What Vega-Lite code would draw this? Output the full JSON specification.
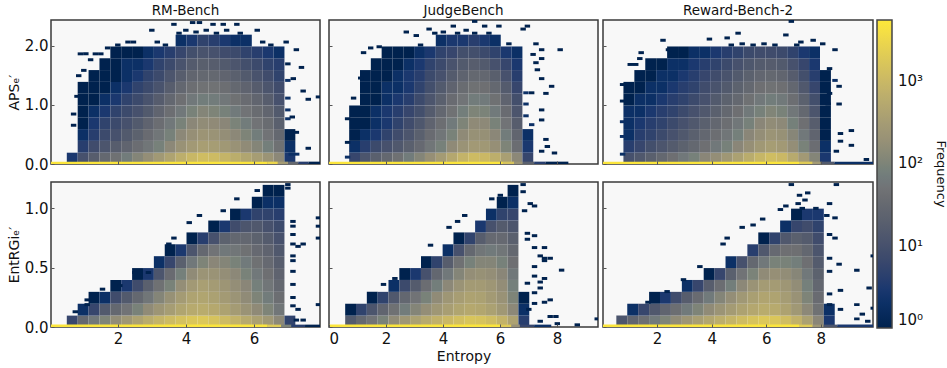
{"$schema":"https://vega.github.io/schema/vega-lite/v6.json","padding":{"left":6,"top":2,"right":0,"bottom":0},"background":"white","config":{"view":{"stroke":"#3a3a3a","strokeWidth":1.5,"fill":"#f8f8f8"},"font":"DejaVu Sans","axis":{"labelColor":"#111","titleColor":"#111","titleFontWeight":"normal","labelFontSize":15,"titleFontSize":14,"domain":false,"tickColor":"#555","gridDash":[2,2],"gridColor":"#999","labelPadding":6,"titlePadding":3},"axisX":{"labelPadding":7},"title":{"fontSize":13.5,"fontWeight":"normal","offset":3,"color":"#111"},"legend":{"labelColor":"#111","titleColor":"#111"}},"datasets":{
"a1":[{"x":0.48,"y":0,"v":3},{"x":0.8,"y":0,"v":10},{"x":0.8,"y":0.2,"v":4},{"x":0.8,"y":0.4,"v":2},{"x":0.8,"y":0.6,"v":1},{"x":0.8,"y":0.8,"v":1},{"x":0.8,"y":1,"v":1},{"x":0.8,"y":1.2,"v":1},{"x":1.12,"y":0,"v":18},{"x":1.12,"y":0.2,"v":8},{"x":1.12,"y":0.4,"v":4},{"x":1.12,"y":0.6,"v":3},{"x":1.12,"y":0.8,"v":2},{"x":1.12,"y":1,"v":1},{"x":1.12,"y":1.2,"v":1},{"x":1.12,"y":1.4,"v":1},{"x":1.44,"y":0,"v":30},{"x":1.44,"y":0.2,"v":12},{"x":1.44,"y":0.4,"v":7},{"x":1.44,"y":0.6,"v":5},{"x":1.44,"y":0.8,"v":3},{"x":1.44,"y":1,"v":2},{"x":1.44,"y":1.2,"v":1},{"x":1.44,"y":1.4,"v":1},{"x":1.44,"y":1.6,"v":1},{"x":1.76,"y":0,"v":45},{"x":1.76,"y":0.2,"v":18},{"x":1.76,"y":0.4,"v":10},{"x":1.76,"y":0.6,"v":7},{"x":1.76,"y":0.8,"v":5},{"x":1.76,"y":1,"v":3},{"x":1.76,"y":1.2,"v":2},{"x":1.76,"y":1.4,"v":1},{"x":1.76,"y":1.6,"v":1},{"x":1.76,"y":1.8,"v":1},{"x":2.08,"y":0,"v":70},{"x":2.08,"y":0.2,"v":25},{"x":2.08,"y":0.4,"v":15},{"x":2.08,"y":0.6,"v":10},{"x":2.08,"y":0.8,"v":7},{"x":2.08,"y":1,"v":5},{"x":2.08,"y":1.2,"v":3},{"x":2.08,"y":1.4,"v":2},{"x":2.08,"y":1.6,"v":2},{"x":2.08,"y":1.8,"v":1},{"x":2.4,"y":0,"v":110},{"x":2.4,"y":0.2,"v":38},{"x":2.4,"y":0.4,"v":22},{"x":2.4,"y":0.6,"v":15},{"x":2.4,"y":0.8,"v":10},{"x":2.4,"y":1,"v":7},{"x":2.4,"y":1.2,"v":5},{"x":2.4,"y":1.4,"v":3},{"x":2.4,"y":1.6,"v":2},{"x":2.4,"y":1.8,"v":1},{"x":2.72,"y":0,"v":170},{"x":2.72,"y":0.2,"v":55},{"x":2.72,"y":0.4,"v":35},{"x":2.72,"y":0.6,"v":24},{"x":2.72,"y":0.8,"v":15},{"x":2.72,"y":1,"v":11},{"x":2.72,"y":1.2,"v":7},{"x":2.72,"y":1.4,"v":5},{"x":2.72,"y":1.6,"v":3},{"x":2.72,"y":1.8,"v":2},{"x":3.04,"y":0,"v":270},{"x":3.04,"y":0.2,"v":85},{"x":3.04,"y":0.4,"v":55},{"x":3.04,"y":0.6,"v":38},{"x":3.04,"y":0.8,"v":25},{"x":3.04,"y":1,"v":17},{"x":3.04,"y":1.2,"v":11},{"x":3.04,"y":1.4,"v":7},{"x":3.04,"y":1.6,"v":5},{"x":3.04,"y":1.8,"v":3},{"x":3.36,"y":0,"v":420},{"x":3.36,"y":0.2,"v":130},{"x":3.36,"y":0.4,"v":85},{"x":3.36,"y":0.6,"v":60},{"x":3.36,"y":0.8,"v":40},{"x":3.36,"y":1,"v":28},{"x":3.36,"y":1.2,"v":18},{"x":3.36,"y":1.4,"v":12},{"x":3.36,"y":1.6,"v":7},{"x":3.36,"y":1.8,"v":4},{"x":3.68,"y":0,"v":650},{"x":3.68,"y":0.2,"v":200},{"x":3.68,"y":0.4,"v":130},{"x":3.68,"y":0.6,"v":90},{"x":3.68,"y":0.8,"v":60},{"x":3.68,"y":1,"v":42},{"x":3.68,"y":1.2,"v":28},{"x":3.68,"y":1.4,"v":18},{"x":3.68,"y":1.6,"v":11},{"x":3.68,"y":1.8,"v":6},{"x":3.68,"y":2,"v":2},{"x":4,"y":0,"v":950},{"x":4,"y":0.2,"v":280},{"x":4,"y":0.4,"v":180},{"x":4,"y":0.6,"v":125},{"x":4,"y":0.8,"v":90},{"x":4,"y":1,"v":60},{"x":4,"y":1.2,"v":40},{"x":4,"y":1.4,"v":26},{"x":4,"y":1.6,"v":16},{"x":4,"y":1.8,"v":9},{"x":4,"y":2,"v":3},{"x":4.32,"y":0,"v":1200},{"x":4.32,"y":0.2,"v":340},{"x":4.32,"y":0.4,"v":225},{"x":4.32,"y":0.6,"v":155},{"x":4.32,"y":0.8,"v":110},{"x":4.32,"y":1,"v":72},{"x":4.32,"y":1.2,"v":48},{"x":4.32,"y":1.4,"v":30},{"x":4.32,"y":1.6,"v":19},{"x":4.32,"y":1.8,"v":11},{"x":4.32,"y":2,"v":5},{"x":4.64,"y":0,"v":1100},{"x":4.64,"y":0.2,"v":320},{"x":4.64,"y":0.4,"v":210},{"x":4.64,"y":0.6,"v":145},{"x":4.64,"y":0.8,"v":100},{"x":4.64,"y":1,"v":70},{"x":4.64,"y":1.2,"v":48},{"x":4.64,"y":1.4,"v":30},{"x":4.64,"y":1.6,"v":18},{"x":4.64,"y":1.8,"v":10},{"x":4.64,"y":2,"v":4},{"x":4.96,"y":0,"v":850},{"x":4.96,"y":0.2,"v":260},{"x":4.96,"y":0.4,"v":170},{"x":4.96,"y":0.6,"v":120},{"x":4.96,"y":0.8,"v":85},{"x":4.96,"y":1,"v":58},{"x":4.96,"y":1.2,"v":40},{"x":4.96,"y":1.4,"v":25},{"x":4.96,"y":1.6,"v":15},{"x":4.96,"y":1.8,"v":8},{"x":4.96,"y":2,"v":3},{"x":5.28,"y":0,"v":620},{"x":5.28,"y":0.2,"v":200},{"x":5.28,"y":0.4,"v":130},{"x":5.28,"y":0.6,"v":95},{"x":5.28,"y":0.8,"v":65},{"x":5.28,"y":1,"v":45},{"x":5.28,"y":1.2,"v":30},{"x":5.28,"y":1.4,"v":20},{"x":5.28,"y":1.6,"v":12},{"x":5.28,"y":1.8,"v":7},{"x":5.28,"y":2,"v":2},{"x":5.6,"y":0,"v":450},{"x":5.6,"y":0.2,"v":150},{"x":5.6,"y":0.4,"v":100},{"x":5.6,"y":0.6,"v":70},{"x":5.6,"y":0.8,"v":50},{"x":5.6,"y":1,"v":35},{"x":5.6,"y":1.2,"v":24},{"x":5.6,"y":1.4,"v":15},{"x":5.6,"y":1.6,"v":9},{"x":5.6,"y":1.8,"v":5},{"x":5.6,"y":2,"v":2},{"x":5.92,"y":0,"v":320},{"x":5.92,"y":0.2,"v":110},{"x":5.92,"y":0.4,"v":72},{"x":5.92,"y":0.6,"v":50},{"x":5.92,"y":0.8,"v":36},{"x":5.92,"y":1,"v":26},{"x":5.92,"y":1.2,"v":17},{"x":5.92,"y":1.4,"v":11},{"x":5.92,"y":1.6,"v":7},{"x":5.92,"y":1.8,"v":4},{"x":6.24,"y":0,"v":220},{"x":6.24,"y":0.2,"v":78},{"x":6.24,"y":0.4,"v":50},{"x":6.24,"y":0.6,"v":36},{"x":6.24,"y":0.8,"v":26},{"x":6.24,"y":1,"v":18},{"x":6.24,"y":1.2,"v":12},{"x":6.24,"y":1.4,"v":8},{"x":6.24,"y":1.6,"v":5},{"x":6.24,"y":1.8,"v":3},{"x":6.56,"y":0,"v":130},{"x":6.56,"y":0.2,"v":45},{"x":6.56,"y":0.4,"v":30},{"x":6.56,"y":0.6,"v":20},{"x":6.56,"y":0.8,"v":15},{"x":6.56,"y":1,"v":10},{"x":6.56,"y":1.2,"v":8},{"x":6.56,"y":1.4,"v":5},{"x":6.56,"y":1.6,"v":4},{"x":6.56,"y":1.8,"v":2},{"x":6.88,"y":0,"v":3},{"x":6.88,"y":0.2,"v":2},{"x":6.88,"y":0.4,"v":1}],
"s1":[{"x":0.8,"y":1.85,"v":1},{"x":0.96,"y":1.85,"v":1},{"x":1.24,"y":1.85,"v":1},{"x":1.4,"y":1.85,"v":1},{"x":1.6,"y":1.95,"v":1},{"x":1.9,"y":2,"v":1},{"x":2.2,"y":2.05,"v":1},{"x":2.36,"y":2.05,"v":1},{"x":2.9,"y":2.25,"v":1},{"x":3.06,"y":2.05,"v":1},{"x":3.3,"y":2,"v":1},{"x":3.55,"y":2.35,"v":1},{"x":3.7,"y":2.2,"v":1},{"x":3.9,"y":2.25,"v":1},{"x":4.1,"y":2.38,"v":1},{"x":4.3,"y":2.38,"v":1},{"x":4.2,"y":2.22,"v":1},{"x":4.5,"y":2.25,"v":1},{"x":4.7,"y":2.35,"v":1},{"x":4.8,"y":2.2,"v":1},{"x":5,"y":2.35,"v":1},{"x":5.1,"y":2.25,"v":1},{"x":5.4,"y":2.35,"v":1},{"x":5.5,"y":2.2,"v":1},{"x":6,"y":2.25,"v":1},{"x":6.16,"y":2.05,"v":1},{"x":6.4,"y":2,"v":1},{"x":6.85,"y":2.05,"v":1},{"x":7.15,"y":1.92,"v":1},{"x":7.3,"y":1.62,"v":1},{"x":7.35,"y":1.22,"v":1},{"x":7.5,"y":1.08,"v":1},{"x":7.8,"y":1.12,"v":1},{"x":6.9,"y":1.68,"v":1},{"x":6.9,"y":1.4,"v":2},{"x":7.06,"y":1.43,"v":1},{"x":6.9,"y":1.1,"v":2},{"x":6.9,"y":0.9,"v":2},{"x":6.9,"y":0.75,"v":2},{"x":7.03,"y":0.78,"v":1},{"x":7.15,"y":0.52,"v":1},{"x":7.5,"y":0.25,"v":1},{"x":7,"y":0.15,"v":2},{"x":7.16,"y":0.15,"v":2},{"x":0.75,"y":1.48,"v":1},{"x":0.9,"y":1.57,"v":1},{"x":1.1,"y":1.75,"v":1},{"x":0.6,"y":0.83,"v":1},{"x":0.6,"y":0.64,"v":1},{"x":0.7,"y":1.13,"v":1}],
"t1":[{"x":0,"x2":6.4,"v":5000},{"x":6.4,"x2":6.7,"v":3000},{"x":6.7,"x2":7,"v":300},{"x":7,"x2":7.3,"v":30},{"x":7.3,"x2":7.6,"v":4},{"x":7.6,"x2":7.94,"v":1}],
"a2":[{"x":0.69,"y":0,"v":6},{"x":0.69,"y":0.2,"v":2},{"x":0.69,"y":0.4,"v":1},{"x":0.69,"y":0.6,"v":1},{"x":0.69,"y":0.8,"v":1},{"x":1.07,"y":0,"v":12},{"x":1.07,"y":0.2,"v":4},{"x":1.07,"y":0.4,"v":2},{"x":1.07,"y":0.6,"v":1},{"x":1.07,"y":0.8,"v":1},{"x":1.07,"y":1,"v":1},{"x":1.07,"y":1.2,"v":1},{"x":1.07,"y":1.4,"v":1},{"x":1.45,"y":0,"v":20},{"x":1.45,"y":0.2,"v":7},{"x":1.45,"y":0.4,"v":3},{"x":1.45,"y":0.6,"v":2},{"x":1.45,"y":0.8,"v":2},{"x":1.45,"y":1,"v":1},{"x":1.45,"y":1.2,"v":1},{"x":1.45,"y":1.4,"v":1},{"x":1.45,"y":1.6,"v":1},{"x":1.83,"y":0,"v":30},{"x":1.83,"y":0.2,"v":10},{"x":1.83,"y":0.4,"v":5},{"x":1.83,"y":0.6,"v":3},{"x":1.83,"y":0.8,"v":3},{"x":1.83,"y":1,"v":2},{"x":1.83,"y":1.2,"v":2},{"x":1.83,"y":1.4,"v":1},{"x":1.83,"y":1.6,"v":1},{"x":1.83,"y":1.8,"v":1},{"x":2.21,"y":0,"v":45},{"x":2.21,"y":0.2,"v":14},{"x":2.21,"y":0.4,"v":8},{"x":2.21,"y":0.6,"v":5},{"x":2.21,"y":0.8,"v":4},{"x":2.21,"y":1,"v":3},{"x":2.21,"y":1.2,"v":2},{"x":2.21,"y":1.4,"v":2},{"x":2.21,"y":1.6,"v":1},{"x":2.21,"y":1.8,"v":1},{"x":2.59,"y":0,"v":70},{"x":2.59,"y":0.2,"v":20},{"x":2.59,"y":0.4,"v":12},{"x":2.59,"y":0.6,"v":8},{"x":2.59,"y":0.8,"v":6},{"x":2.59,"y":1,"v":4},{"x":2.59,"y":1.2,"v":3},{"x":2.59,"y":1.4,"v":3},{"x":2.59,"y":1.6,"v":2},{"x":2.59,"y":1.8,"v":1},{"x":2.97,"y":0,"v":110},{"x":2.97,"y":0.2,"v":32},{"x":2.97,"y":0.4,"v":20},{"x":2.97,"y":0.6,"v":13},{"x":2.97,"y":0.8,"v":9},{"x":2.97,"y":1,"v":7},{"x":2.97,"y":1.2,"v":5},{"x":2.97,"y":1.4,"v":4},{"x":2.97,"y":1.6,"v":3},{"x":2.97,"y":1.8,"v":2},{"x":3.35,"y":0,"v":180},{"x":3.35,"y":0.2,"v":55},{"x":3.35,"y":0.4,"v":35},{"x":3.35,"y":0.6,"v":24},{"x":3.35,"y":0.8,"v":16},{"x":3.35,"y":1,"v":12},{"x":3.35,"y":1.2,"v":9},{"x":3.35,"y":1.4,"v":7},{"x":3.35,"y":1.6,"v":5},{"x":3.35,"y":1.8,"v":3},{"x":3.73,"y":0,"v":300},{"x":3.73,"y":0.2,"v":85},{"x":3.73,"y":0.4,"v":55},{"x":3.73,"y":0.6,"v":40},{"x":3.73,"y":0.8,"v":28},{"x":3.73,"y":1,"v":20},{"x":3.73,"y":1.2,"v":15},{"x":3.73,"y":1.4,"v":10},{"x":3.73,"y":1.6,"v":7},{"x":3.73,"y":1.8,"v":5},{"x":3.73,"y":2,"v":2},{"x":4.11,"y":0,"v":500},{"x":4.11,"y":0.2,"v":140},{"x":4.11,"y":0.4,"v":90},{"x":4.11,"y":0.6,"v":65},{"x":4.11,"y":0.8,"v":48},{"x":4.11,"y":1,"v":35},{"x":4.11,"y":1.2,"v":24},{"x":4.11,"y":1.4,"v":16},{"x":4.11,"y":1.6,"v":11},{"x":4.11,"y":1.8,"v":6},{"x":4.11,"y":2,"v":3},{"x":4.49,"y":0,"v":800},{"x":4.49,"y":0.2,"v":210},{"x":4.49,"y":0.4,"v":140},{"x":4.49,"y":0.6,"v":100},{"x":4.49,"y":0.8,"v":75},{"x":4.49,"y":1,"v":52},{"x":4.49,"y":1.2,"v":36},{"x":4.49,"y":1.4,"v":23},{"x":4.49,"y":1.6,"v":15},{"x":4.49,"y":1.8,"v":9},{"x":4.49,"y":2,"v":3},{"x":4.87,"y":0,"v":1100},{"x":4.87,"y":0.2,"v":280},{"x":4.87,"y":0.4,"v":190},{"x":4.87,"y":0.6,"v":140},{"x":4.87,"y":0.8,"v":100},{"x":4.87,"y":1,"v":70},{"x":4.87,"y":1.2,"v":45},{"x":4.87,"y":1.4,"v":30},{"x":4.87,"y":1.6,"v":18},{"x":4.87,"y":1.8,"v":9},{"x":4.87,"y":2,"v":4},{"x":5.25,"y":0,"v":1000},{"x":5.25,"y":0.2,"v":260},{"x":5.25,"y":0.4,"v":185},{"x":5.25,"y":0.6,"v":135},{"x":5.25,"y":0.8,"v":95},{"x":5.25,"y":1,"v":65},{"x":5.25,"y":1.2,"v":42},{"x":5.25,"y":1.4,"v":28},{"x":5.25,"y":1.6,"v":15},{"x":5.25,"y":1.8,"v":7},{"x":5.25,"y":2,"v":3},{"x":5.63,"y":0,"v":650},{"x":5.63,"y":0.2,"v":180},{"x":5.63,"y":0.4,"v":125},{"x":5.63,"y":0.6,"v":90},{"x":5.63,"y":0.8,"v":65},{"x":5.63,"y":1,"v":45},{"x":5.63,"y":1.2,"v":30},{"x":5.63,"y":1.4,"v":19},{"x":5.63,"y":1.6,"v":10},{"x":5.63,"y":1.8,"v":5},{"x":5.63,"y":2,"v":2},{"x":6.01,"y":0,"v":350},{"x":6.01,"y":0.2,"v":100},{"x":6.01,"y":0.4,"v":70},{"x":6.01,"y":0.6,"v":50},{"x":6.01,"y":0.8,"v":35},{"x":6.01,"y":1,"v":24},{"x":6.01,"y":1.2,"v":16},{"x":6.01,"y":1.4,"v":10},{"x":6.01,"y":1.6,"v":6},{"x":6.01,"y":1.8,"v":3},{"x":6.39,"y":0,"v":130},{"x":6.39,"y":0.2,"v":38},{"x":6.39,"y":0.4,"v":26},{"x":6.39,"y":0.6,"v":18},{"x":6.39,"y":0.8,"v":12},{"x":6.39,"y":1,"v":9},{"x":6.39,"y":1.2,"v":6},{"x":6.39,"y":1.4,"v":4},{"x":6.39,"y":1.6,"v":3},{"x":6.39,"y":1.8,"v":2},{"x":6.77,"y":0,"v":6},{"x":6.77,"y":0.2,"v":3},{"x":6.77,"y":0.4,"v":2}],
"s2":[{"x":2.6,"y":2.22,"v":1},{"x":2.95,"y":2.16,"v":1},{"x":3.1,"y":2,"v":1},{"x":3.4,"y":2.27,"v":1},{"x":3.6,"y":2.2,"v":1},{"x":3.9,"y":2.22,"v":1},{"x":4.25,"y":2.32,"v":1},{"x":4.4,"y":2.2,"v":1},{"x":4.7,"y":2.25,"v":1},{"x":5,"y":2.4,"v":1},{"x":5,"y":2.2,"v":1},{"x":5.35,"y":2.32,"v":1},{"x":5.5,"y":2.2,"v":1},{"x":5.85,"y":2.32,"v":1},{"x":6.2,"y":2.02,"v":1},{"x":6.85,"y":2.32,"v":1},{"x":6.7,"y":2.27,"v":1},{"x":7.15,"y":2.02,"v":1},{"x":7.35,"y":1.92,"v":1},{"x":8,"y":1.92,"v":1},{"x":7.05,"y":1.84,"v":1},{"x":7.35,"y":1.77,"v":1},{"x":7.15,"y":1.7,"v":1},{"x":7.2,"y":1.58,"v":1},{"x":7.35,"y":1.43,"v":1},{"x":7.7,"y":1.3,"v":1},{"x":7.5,"y":1.18,"v":1},{"x":6.8,"y":1.19,"v":2},{"x":7,"y":1.19,"v":1},{"x":6.8,"y":1,"v":2},{"x":6.8,"y":0.8,"v":2},{"x":7.35,"y":0.9,"v":1},{"x":7.35,"y":0.73,"v":1},{"x":7,"y":0.65,"v":2},{"x":7.5,"y":0.4,"v":1},{"x":7.55,"y":0.28,"v":1},{"x":7.35,"y":0.2,"v":1},{"x":7.8,"y":0.17,"v":1},{"x":1.1,"y":1.87,"v":1},{"x":1.65,"y":1.97,"v":1},{"x":1.35,"y":1.95,"v":1},{"x":1,"y":1.44,"v":1},{"x":0.75,"y":1.1,"v":1},{"x":0.54,"y":0.75,"v":1},{"x":0.54,"y":0.35,"v":1},{"x":0.54,"y":0.1,"v":2}],
"t2":[{"x":0,"x2":6.1,"v":5000},{"x":6.1,"x2":6.5,"v":1500},{"x":6.5,"x2":6.8,"v":200},{"x":6.8,"x2":7.2,"v":20},{"x":7.2,"x2":7.6,"v":4},{"x":7.6,"x2":8.4,"v":1}],
"a3":[{"x":0.75,"y":0,"v":10},{"x":0.75,"y":0.2,"v":4},{"x":0.75,"y":0.4,"v":2},{"x":0.75,"y":0.6,"v":2},{"x":0.75,"y":0.8,"v":2},{"x":0.75,"y":1,"v":1},{"x":0.75,"y":1.2,"v":1},{"x":1.15,"y":0,"v":14},{"x":1.15,"y":0.2,"v":6},{"x":1.15,"y":0.4,"v":4},{"x":1.15,"y":0.6,"v":3},{"x":1.15,"y":0.8,"v":2},{"x":1.15,"y":1,"v":2},{"x":1.15,"y":1.2,"v":1},{"x":1.15,"y":1.4,"v":1},{"x":1.55,"y":0,"v":20},{"x":1.55,"y":0.2,"v":9},{"x":1.55,"y":0.4,"v":5},{"x":1.55,"y":0.6,"v":4},{"x":1.55,"y":0.8,"v":3},{"x":1.55,"y":1,"v":2},{"x":1.55,"y":1.2,"v":2},{"x":1.55,"y":1.4,"v":1},{"x":1.55,"y":1.6,"v":1},{"x":1.95,"y":0,"v":30},{"x":1.95,"y":0.2,"v":12},{"x":1.95,"y":0.4,"v":7},{"x":1.95,"y":0.6,"v":5},{"x":1.95,"y":0.8,"v":4},{"x":1.95,"y":1,"v":3},{"x":1.95,"y":1.2,"v":2},{"x":1.95,"y":1.4,"v":2},{"x":1.95,"y":1.6,"v":1},{"x":2.35,"y":0,"v":42},{"x":2.35,"y":0.2,"v":16},{"x":2.35,"y":0.4,"v":10},{"x":2.35,"y":0.6,"v":7},{"x":2.35,"y":0.8,"v":5},{"x":2.35,"y":1,"v":4},{"x":2.35,"y":1.2,"v":3},{"x":2.35,"y":1.4,"v":2},{"x":2.35,"y":1.6,"v":2},{"x":2.35,"y":1.8,"v":1},{"x":2.75,"y":0,"v":60},{"x":2.75,"y":0.2,"v":22},{"x":2.75,"y":0.4,"v":14},{"x":2.75,"y":0.6,"v":10},{"x":2.75,"y":0.8,"v":7},{"x":2.75,"y":1,"v":5},{"x":2.75,"y":1.2,"v":4},{"x":2.75,"y":1.4,"v":3},{"x":2.75,"y":1.6,"v":2},{"x":2.75,"y":1.8,"v":1},{"x":3.15,"y":0,"v":85},{"x":3.15,"y":0.2,"v":30},{"x":3.15,"y":0.4,"v":20},{"x":3.15,"y":0.6,"v":14},{"x":3.15,"y":0.8,"v":10},{"x":3.15,"y":1,"v":7},{"x":3.15,"y":1.2,"v":5},{"x":3.15,"y":1.4,"v":4},{"x":3.15,"y":1.6,"v":3},{"x":3.15,"y":1.8,"v":2},{"x":3.55,"y":0,"v":120},{"x":3.55,"y":0.2,"v":42},{"x":3.55,"y":0.4,"v":28},{"x":3.55,"y":0.6,"v":20},{"x":3.55,"y":0.8,"v":14},{"x":3.55,"y":1,"v":10},{"x":3.55,"y":1.2,"v":8},{"x":3.55,"y":1.4,"v":6},{"x":3.55,"y":1.6,"v":4},{"x":3.55,"y":1.8,"v":2},{"x":3.95,"y":0,"v":170},{"x":3.95,"y":0.2,"v":60},{"x":3.95,"y":0.4,"v":40},{"x":3.95,"y":0.6,"v":28},{"x":3.95,"y":0.8,"v":20},{"x":3.95,"y":1,"v":15},{"x":3.95,"y":1.2,"v":11},{"x":3.95,"y":1.4,"v":8},{"x":3.95,"y":1.6,"v":5},{"x":3.95,"y":1.8,"v":3},{"x":4.35,"y":0,"v":250},{"x":4.35,"y":0.2,"v":85},{"x":4.35,"y":0.4,"v":55},{"x":4.35,"y":0.6,"v":40},{"x":4.35,"y":0.8,"v":30},{"x":4.35,"y":1,"v":22},{"x":4.35,"y":1.2,"v":15},{"x":4.35,"y":1.4,"v":11},{"x":4.35,"y":1.6,"v":7},{"x":4.35,"y":1.8,"v":4},{"x":4.75,"y":0,"v":380},{"x":4.75,"y":0.2,"v":120},{"x":4.75,"y":0.4,"v":80},{"x":4.75,"y":0.6,"v":58},{"x":4.75,"y":0.8,"v":42},{"x":4.75,"y":1,"v":30},{"x":4.75,"y":1.2,"v":22},{"x":4.75,"y":1.4,"v":15},{"x":4.75,"y":1.6,"v":10},{"x":4.75,"y":1.8,"v":5},{"x":5.15,"y":0,"v":600},{"x":5.15,"y":0.2,"v":180},{"x":5.15,"y":0.4,"v":120},{"x":5.15,"y":0.6,"v":85},{"x":5.15,"y":0.8,"v":62},{"x":5.15,"y":1,"v":45},{"x":5.15,"y":1.2,"v":30},{"x":5.15,"y":1.4,"v":21},{"x":5.15,"y":1.6,"v":13},{"x":5.15,"y":1.8,"v":7},{"x":5.55,"y":0,"v":900},{"x":5.55,"y":0.2,"v":260},{"x":5.55,"y":0.4,"v":170},{"x":5.55,"y":0.6,"v":120},{"x":5.55,"y":0.8,"v":85},{"x":5.55,"y":1,"v":60},{"x":5.55,"y":1.2,"v":42},{"x":5.55,"y":1.4,"v":27},{"x":5.55,"y":1.6,"v":16},{"x":5.55,"y":1.8,"v":8},{"x":5.95,"y":0,"v":1200},{"x":5.95,"y":0.2,"v":320},{"x":5.95,"y":0.4,"v":220},{"x":5.95,"y":0.6,"v":155},{"x":5.95,"y":0.8,"v":105},{"x":5.95,"y":1,"v":72},{"x":5.95,"y":1.2,"v":48},{"x":5.95,"y":1.4,"v":30},{"x":5.95,"y":1.6,"v":17},{"x":5.95,"y":1.8,"v":8},{"x":6.35,"y":0,"v":1000},{"x":6.35,"y":0.2,"v":280},{"x":6.35,"y":0.4,"v":190},{"x":6.35,"y":0.6,"v":135},{"x":6.35,"y":0.8,"v":90},{"x":6.35,"y":1,"v":62},{"x":6.35,"y":1.2,"v":42},{"x":6.35,"y":1.4,"v":26},{"x":6.35,"y":1.6,"v":15},{"x":6.35,"y":1.8,"v":7},{"x":6.75,"y":0,"v":550},{"x":6.75,"y":0.2,"v":170},{"x":6.75,"y":0.4,"v":115},{"x":6.75,"y":0.6,"v":82},{"x":6.75,"y":0.8,"v":58},{"x":6.75,"y":1,"v":40},{"x":6.75,"y":1.2,"v":28},{"x":6.75,"y":1.4,"v":17},{"x":6.75,"y":1.6,"v":10},{"x":6.75,"y":1.8,"v":5},{"x":7.15,"y":0,"v":280},{"x":7.15,"y":0.2,"v":90},{"x":7.15,"y":0.4,"v":60},{"x":7.15,"y":0.6,"v":42},{"x":7.15,"y":0.8,"v":30},{"x":7.15,"y":1,"v":21},{"x":7.15,"y":1.2,"v":14},{"x":7.15,"y":1.4,"v":9},{"x":7.15,"y":1.6,"v":6},{"x":7.15,"y":1.8,"v":3},{"x":7.55,"y":0,"v":110},{"x":7.55,"y":0.2,"v":38},{"x":7.55,"y":0.4,"v":25},{"x":7.55,"y":0.6,"v":18},{"x":7.55,"y":0.8,"v":12},{"x":7.55,"y":1,"v":9},{"x":7.55,"y":1.2,"v":6},{"x":7.55,"y":1.4,"v":4},{"x":7.55,"y":1.6,"v":3},{"x":7.55,"y":1.8,"v":2},{"x":7.95,"y":0,"v":3},{"x":7.95,"y":0.2,"v":2},{"x":7.95,"y":0.4,"v":1},{"x":7.95,"y":0.6,"v":1},{"x":7.95,"y":0.8,"v":1},{"x":7.95,"y":1,"v":1},{"x":7.95,"y":1.2,"v":1},{"x":7.95,"y":1.4,"v":1}],
"s3":[{"x":6.8,"y":2.4,"v":1},{"x":2.1,"y":2.08,"v":1},{"x":3.8,"y":2.1,"v":1},{"x":4.45,"y":2.12,"v":1},{"x":4.85,"y":2.2,"v":1},{"x":4.6,"y":2,"v":1},{"x":5,"y":2.02,"v":1},{"x":5.4,"y":2,"v":1},{"x":5.8,"y":2.02,"v":1},{"x":6.2,"y":2,"v":1},{"x":6.6,"y":2.17,"v":1},{"x":7,"y":2,"v":1},{"x":7.15,"y":2.05,"v":1},{"x":7.6,"y":2.08,"v":1},{"x":7.95,"y":2.02,"v":1},{"x":8.4,"y":1.92,"v":1},{"x":2.3,"y":1.92,"v":1},{"x":1.3,"y":1.87,"v":1},{"x":1.25,"y":1.77,"v":1},{"x":0.9,"y":1.67,"v":1},{"x":1.1,"y":1.67,"v":1},{"x":8.2,"y":1.6,"v":1},{"x":8.4,"y":1.4,"v":2},{"x":8.55,"y":1.3,"v":1},{"x":8.2,"y":1.18,"v":1},{"x":8.55,"y":1,"v":1},{"x":8.15,"y":1,"v":1},{"x":9,"y":0.55,"v":1},{"x":8.6,"y":0.5,"v":1},{"x":8.6,"y":0.37,"v":1},{"x":9,"y":0.3,"v":1},{"x":8.45,"y":0.2,"v":1},{"x":9.55,"y":0.06,"v":1},{"x":0.62,"y":1.33,"v":1},{"x":0.62,"y":1.05,"v":1},{"x":0.62,"y":0.7,"v":2},{"x":0.62,"y":0.45,"v":2},{"x":0.62,"y":0.15,"v":2}],
"t3":[{"x":0,"x2":7.2,"v":5000},{"x":7.2,"x2":7.7,"v":2000},{"x":7.7,"x2":8,"v":300},{"x":8,"x2":8.5,"v":15},{"x":8.5,"x2":9.91,"v":2}],
"a4":[{"x":0.48,"y":0,"v":6},{"x":0.8,"y":0,"v":30},{"x":0.8,"y":0.1,"v":2},{"x":1.12,"y":0,"v":60},{"x":1.12,"y":0.1,"v":6},{"x":1.12,"y":0.2,"v":1},{"x":1.44,"y":0,"v":100},{"x":1.44,"y":0.1,"v":15},{"x":1.44,"y":0.2,"v":2},{"x":1.76,"y":0,"v":160},{"x":1.76,"y":0.1,"v":30},{"x":1.76,"y":0.2,"v":8},{"x":1.76,"y":0.3,"v":1},{"x":2.08,"y":0,"v":250},{"x":2.08,"y":0.1,"v":50},{"x":2.08,"y":0.2,"v":15},{"x":2.08,"y":0.3,"v":3},{"x":2.4,"y":0,"v":400},{"x":2.4,"y":0.1,"v":90},{"x":2.4,"y":0.2,"v":30},{"x":2.4,"y":0.3,"v":8},{"x":2.4,"y":0.4,"v":1},{"x":2.72,"y":0,"v":600},{"x":2.72,"y":0.1,"v":150},{"x":2.72,"y":0.2,"v":55},{"x":2.72,"y":0.3,"v":20},{"x":2.72,"y":0.4,"v":3},{"x":3.04,"y":0,"v":850},{"x":3.04,"y":0.1,"v":230},{"x":3.04,"y":0.2,"v":110},{"x":3.04,"y":0.3,"v":45},{"x":3.04,"y":0.4,"v":12},{"x":3.04,"y":0.5,"v":2},{"x":3.36,"y":0,"v":1100},{"x":3.36,"y":0.1,"v":320},{"x":3.36,"y":0.2,"v":190},{"x":3.36,"y":0.3,"v":90},{"x":3.36,"y":0.4,"v":35},{"x":3.36,"y":0.5,"v":6},{"x":3.36,"y":0.6,"v":1},{"x":3.68,"y":0,"v":1400},{"x":3.68,"y":0.1,"v":450},{"x":3.68,"y":0.2,"v":300},{"x":3.68,"y":0.3,"v":170},{"x":3.68,"y":0.4,"v":80},{"x":3.68,"y":0.5,"v":20},{"x":3.68,"y":0.6,"v":3},{"x":4,"y":0,"v":1700},{"x":4,"y":0.1,"v":550},{"x":4,"y":0.2,"v":420},{"x":4,"y":0.3,"v":280},{"x":4,"y":0.4,"v":150},{"x":4,"y":0.5,"v":60},{"x":4,"y":0.6,"v":12},{"x":4,"y":0.7,"v":1},{"x":4.32,"y":0,"v":1800},{"x":4.32,"y":0.1,"v":600},{"x":4.32,"y":0.2,"v":450},{"x":4.32,"y":0.3,"v":350},{"x":4.32,"y":0.4,"v":220},{"x":4.32,"y":0.5,"v":100},{"x":4.32,"y":0.6,"v":30},{"x":4.32,"y":0.7,"v":4},{"x":4.64,"y":0,"v":1500},{"x":4.64,"y":0.1,"v":520},{"x":4.64,"y":0.2,"v":380},{"x":4.64,"y":0.3,"v":300},{"x":4.64,"y":0.4,"v":210},{"x":4.64,"y":0.5,"v":120},{"x":4.64,"y":0.6,"v":50},{"x":4.64,"y":0.7,"v":10},{"x":4.64,"y":0.8,"v":1},{"x":4.96,"y":0,"v":1100},{"x":4.96,"y":0.1,"v":400},{"x":4.96,"y":0.2,"v":290},{"x":4.96,"y":0.3,"v":230},{"x":4.96,"y":0.4,"v":170},{"x":4.96,"y":0.5,"v":110},{"x":4.96,"y":0.6,"v":60},{"x":4.96,"y":0.7,"v":22},{"x":4.96,"y":0.8,"v":3},{"x":5.28,"y":0,"v":800},{"x":5.28,"y":0.1,"v":300},{"x":5.28,"y":0.2,"v":220},{"x":5.28,"y":0.3,"v":170},{"x":5.28,"y":0.4,"v":130},{"x":5.28,"y":0.5,"v":90},{"x":5.28,"y":0.6,"v":55},{"x":5.28,"y":0.7,"v":28},{"x":5.28,"y":0.8,"v":8},{"x":5.28,"y":0.9,"v":1},{"x":5.6,"y":0,"v":550},{"x":5.6,"y":0.1,"v":210},{"x":5.6,"y":0.2,"v":150},{"x":5.6,"y":0.3,"v":120},{"x":5.6,"y":0.4,"v":90},{"x":5.6,"y":0.5,"v":65},{"x":5.6,"y":0.6,"v":45},{"x":5.6,"y":0.7,"v":28},{"x":5.6,"y":0.8,"v":12},{"x":5.6,"y":0.9,"v":3},{"x":5.92,"y":0,"v":380},{"x":5.92,"y":0.1,"v":140},{"x":5.92,"y":0.2,"v":100},{"x":5.92,"y":0.3,"v":80},{"x":5.92,"y":0.4,"v":60},{"x":5.92,"y":0.5,"v":45},{"x":5.92,"y":0.6,"v":32},{"x":5.92,"y":0.7,"v":22},{"x":5.92,"y":0.8,"v":14},{"x":5.92,"y":0.9,"v":5},{"x":5.92,"y":1,"v":1},{"x":6.24,"y":0,"v":260},{"x":6.24,"y":0.1,"v":100},{"x":6.24,"y":0.2,"v":70},{"x":6.24,"y":0.3,"v":55},{"x":6.24,"y":0.4,"v":42},{"x":6.24,"y":0.5,"v":32},{"x":6.24,"y":0.6,"v":24},{"x":6.24,"y":0.7,"v":16},{"x":6.24,"y":0.8,"v":10},{"x":6.24,"y":0.9,"v":5},{"x":6.24,"y":1,"v":2},{"x":6.24,"y":1.1,"v":1},{"x":6.56,"y":0,"v":130},{"x":6.56,"y":0.1,"v":55},{"x":6.56,"y":0.2,"v":40},{"x":6.56,"y":0.3,"v":30},{"x":6.56,"y":0.4,"v":24},{"x":6.56,"y":0.5,"v":18},{"x":6.56,"y":0.6,"v":14},{"x":6.56,"y":0.7,"v":10},{"x":6.56,"y":0.8,"v":7},{"x":6.56,"y":0.9,"v":4},{"x":6.56,"y":1,"v":2},{"x":6.56,"y":1.1,"v":1},{"x":6.88,"y":0,"v":5}],
"s4":[{"x":6.9,"y":1.19,"v":1},{"x":6.9,"y":1.16,"v":1},{"x":6,"y":1.14,"v":1},{"x":6.35,"y":1.14,"v":1},{"x":6.65,"y":1.13,"v":1},{"x":5.4,"y":1.07,"v":1},{"x":5,"y":0.97,"v":1},{"x":4.3,"y":0.93,"v":1},{"x":4,"y":0.87,"v":1},{"x":7.8,"y":0.91,"v":1},{"x":7.8,"y":0.84,"v":1},{"x":7.8,"y":0.74,"v":1},{"x":7.8,"y":0.18,"v":1},{"x":7.05,"y":0.88,"v":1},{"x":7.05,"y":0.84,"v":1},{"x":7.05,"y":0.77,"v":1},{"x":7.05,"y":0.69,"v":1},{"x":7.35,"y":0.69,"v":1},{"x":7.2,"y":0.67,"v":1},{"x":7.05,"y":0.59,"v":1},{"x":7.05,"y":0.55,"v":1},{"x":7.05,"y":0.46,"v":1},{"x":7.05,"y":0.35,"v":1},{"x":7.05,"y":0.24,"v":1},{"x":7.05,"y":0.17,"v":1},{"x":7.2,"y":0.14,"v":1},{"x":7.35,"y":0.05,"v":1},{"x":7.15,"y":0.05,"v":1},{"x":3.4,"y":0.69,"v":1},{"x":3.55,"y":0.74,"v":1},{"x":2.8,"y":0.45,"v":1},{"x":2.4,"y":0.45,"v":1},{"x":1.45,"y":0.31,"v":1},{"x":1,"y":0.18,"v":1},{"x":1,"y":0.22,"v":1},{"x":1.96,"y":0.34,"v":1},{"x":0.65,"y":0.12,"v":1}],
"t4":[{"x":0,"x2":6.4,"v":5000},{"x":6.4,"x2":6.8,"v":2000},{"x":6.8,"x2":7.1,"v":100},{"x":7.1,"x2":7.5,"v":4},{"x":7.5,"x2":7.94,"v":1}],
"a5":[{"x":0.55,"y":0,"v":15},{"x":0.55,"y":0.1,"v":1},{"x":0.93,"y":0,"v":30},{"x":0.93,"y":0.1,"v":5},{"x":1.31,"y":0,"v":50},{"x":1.31,"y":0.1,"v":12},{"x":1.31,"y":0.2,"v":1},{"x":1.69,"y":0,"v":90},{"x":1.69,"y":0.1,"v":25},{"x":1.69,"y":0.2,"v":5},{"x":2.07,"y":0,"v":150},{"x":2.07,"y":0.1,"v":45},{"x":2.07,"y":0.2,"v":14},{"x":2.07,"y":0.3,"v":2},{"x":2.45,"y":0,"v":240},{"x":2.45,"y":0.1,"v":70},{"x":2.45,"y":0.2,"v":28},{"x":2.45,"y":0.3,"v":7},{"x":2.45,"y":0.4,"v":1},{"x":2.83,"y":0,"v":380},{"x":2.83,"y":0.1,"v":110},{"x":2.83,"y":0.2,"v":50},{"x":2.83,"y":0.3,"v":16},{"x":2.83,"y":0.4,"v":3},{"x":3.21,"y":0,"v":550},{"x":3.21,"y":0.1,"v":170},{"x":3.21,"y":0.2,"v":90},{"x":3.21,"y":0.3,"v":38},{"x":3.21,"y":0.4,"v":10},{"x":3.21,"y":0.5,"v":1},{"x":3.59,"y":0,"v":750},{"x":3.59,"y":0.1,"v":250},{"x":3.59,"y":0.2,"v":150},{"x":3.59,"y":0.3,"v":75},{"x":3.59,"y":0.4,"v":28},{"x":3.59,"y":0.5,"v":5},{"x":3.97,"y":0,"v":1000},{"x":3.97,"y":0.1,"v":340},{"x":3.97,"y":0.2,"v":240},{"x":3.97,"y":0.3,"v":130},{"x":3.97,"y":0.4,"v":60},{"x":3.97,"y":0.5,"v":18},{"x":3.97,"y":0.6,"v":2},{"x":4.35,"y":0,"v":1300},{"x":4.35,"y":0.1,"v":450},{"x":4.35,"y":0.2,"v":330},{"x":4.35,"y":0.3,"v":210},{"x":4.35,"y":0.4,"v":110},{"x":4.35,"y":0.5,"v":45},{"x":4.35,"y":0.6,"v":10},{"x":4.35,"y":0.7,"v":1},{"x":4.73,"y":0,"v":1600},{"x":4.73,"y":0.1,"v":520},{"x":4.73,"y":0.2,"v":400},{"x":4.73,"y":0.3,"v":290},{"x":4.73,"y":0.4,"v":170},{"x":4.73,"y":0.5,"v":85},{"x":4.73,"y":0.6,"v":30},{"x":4.73,"y":0.7,"v":5},{"x":5.11,"y":0,"v":1500},{"x":5.11,"y":0.1,"v":480},{"x":5.11,"y":0.2,"v":380},{"x":5.11,"y":0.3,"v":290},{"x":5.11,"y":0.4,"v":190},{"x":5.11,"y":0.5,"v":110},{"x":5.11,"y":0.6,"v":55},{"x":5.11,"y":0.7,"v":18},{"x":5.11,"y":0.8,"v":3},{"x":5.49,"y":0,"v":1200},{"x":5.49,"y":0.1,"v":380},{"x":5.49,"y":0.2,"v":290},{"x":5.49,"y":0.3,"v":240},{"x":5.49,"y":0.4,"v":170},{"x":5.49,"y":0.5,"v":110},{"x":5.49,"y":0.6,"v":65},{"x":5.49,"y":0.7,"v":32},{"x":5.49,"y":0.8,"v":10},{"x":5.49,"y":0.9,"v":2},{"x":5.87,"y":0,"v":800},{"x":5.87,"y":0.1,"v":260},{"x":5.87,"y":0.2,"v":200},{"x":5.87,"y":0.3,"v":165},{"x":5.87,"y":0.4,"v":120},{"x":5.87,"y":0.5,"v":85},{"x":5.87,"y":0.6,"v":55},{"x":5.87,"y":0.7,"v":32},{"x":5.87,"y":0.8,"v":16},{"x":5.87,"y":0.9,"v":5},{"x":5.87,"y":1,"v":1},{"x":6.25,"y":0,"v":400},{"x":6.25,"y":0.1,"v":130},{"x":6.25,"y":0.2,"v":100},{"x":6.25,"y":0.3,"v":80},{"x":6.25,"y":0.4,"v":60},{"x":6.25,"y":0.5,"v":42},{"x":6.25,"y":0.6,"v":30},{"x":6.25,"y":0.7,"v":20},{"x":6.25,"y":0.8,"v":12},{"x":6.25,"y":0.9,"v":6},{"x":6.25,"y":1,"v":2},{"x":6.25,"y":1.1,"v":1},{"x":6.63,"y":0,"v":4},{"x":6.63,"y":0.1,"v":2},{"x":6.63,"y":0.2,"v":1}],
"s5":[{"x":6.7,"y":1.19,"v":1},{"x":6.35,"y":1.15,"v":1},{"x":6.7,"y":1.13,"v":1},{"x":5.9,"y":1.1,"v":1},{"x":5.6,"y":1.07,"v":1},{"x":6.95,"y":1.03,"v":1},{"x":7.1,"y":1.01,"v":1},{"x":6.75,"y":0.97,"v":1},{"x":4.65,"y":0.93,"v":1},{"x":4.4,"y":0.88,"v":1},{"x":4.1,"y":0.83,"v":1},{"x":6.85,"y":0.78,"v":1},{"x":7.1,"y":0.76,"v":1},{"x":6.85,"y":0.73,"v":1},{"x":7.1,"y":0.66,"v":1},{"x":7.45,"y":0.66,"v":1},{"x":7.3,"y":0.59,"v":1},{"x":7.45,"y":0.57,"v":1},{"x":7.65,"y":0.57,"v":1},{"x":7.45,"y":0.55,"v":1},{"x":7.1,"y":0.5,"v":1},{"x":8.05,"y":0.47,"v":1},{"x":7.1,"y":0.42,"v":1},{"x":7.45,"y":0.4,"v":1},{"x":6.85,"y":0.36,"v":1},{"x":7.3,"y":0.37,"v":1},{"x":7.3,"y":0.32,"v":1},{"x":7.1,"y":0.28,"v":1},{"x":7.65,"y":0.22,"v":1},{"x":7.45,"y":0.2,"v":1},{"x":7.1,"y":0.19,"v":1},{"x":6.9,"y":0.14,"v":1},{"x":7.65,"y":0.08,"v":1},{"x":7.85,"y":0.08,"v":1},{"x":7.3,"y":0.04,"v":1},{"x":7.9,"y":0.02,"v":1},{"x":8.6,"y":0.01,"v":1},{"x":9.3,"y":0.06,"v":1},{"x":2.2,"y":0.4,"v":1},{"x":1.8,"y":0.35,"v":1},{"x":1.35,"y":0.22,"v":1},{"x":3.45,"y":0.68,"v":1}],
"t5":[{"x":0,"x2":6,"v":5000},{"x":6,"x2":6.4,"v":2000},{"x":6.4,"x2":6.7,"v":200},{"x":6.7,"x2":7.2,"v":6},{"x":7.2,"x2":7.8,"v":2}],
"a6":[{"x":0.49,"y":0,"v":12},{"x":0.89,"y":0,"v":25},{"x":0.89,"y":0.1,"v":2},{"x":1.29,"y":0,"v":40},{"x":1.29,"y":0.1,"v":6},{"x":1.69,"y":0,"v":65},{"x":1.69,"y":0.1,"v":14},{"x":1.69,"y":0.2,"v":1},{"x":2.09,"y":0,"v":100},{"x":2.09,"y":0.1,"v":25},{"x":2.09,"y":0.2,"v":3},{"x":2.49,"y":0,"v":150},{"x":2.49,"y":0.1,"v":40},{"x":2.49,"y":0.2,"v":8},{"x":2.89,"y":0,"v":230},{"x":2.89,"y":0.1,"v":65},{"x":2.89,"y":0.2,"v":18},{"x":2.89,"y":0.3,"v":2},{"x":3.29,"y":0,"v":340},{"x":3.29,"y":0.1,"v":100},{"x":3.29,"y":0.2,"v":35},{"x":3.29,"y":0.3,"v":6},{"x":3.69,"y":0,"v":480},{"x":3.69,"y":0.1,"v":150},{"x":3.69,"y":0.2,"v":65},{"x":3.69,"y":0.3,"v":18},{"x":3.69,"y":0.4,"v":1},{"x":4.09,"y":0,"v":650},{"x":4.09,"y":0.1,"v":220},{"x":4.09,"y":0.2,"v":110},{"x":4.09,"y":0.3,"v":38},{"x":4.09,"y":0.4,"v":6},{"x":4.49,"y":0,"v":850},{"x":4.49,"y":0.1,"v":300},{"x":4.49,"y":0.2,"v":170},{"x":4.49,"y":0.3,"v":75},{"x":4.49,"y":0.4,"v":20},{"x":4.49,"y":0.5,"v":2},{"x":4.89,"y":0,"v":1150},{"x":4.89,"y":0.1,"v":400},{"x":4.89,"y":0.2,"v":260},{"x":4.89,"y":0.3,"v":130},{"x":4.89,"y":0.4,"v":50},{"x":4.89,"y":0.5,"v":10},{"x":5.29,"y":0,"v":1500},{"x":5.29,"y":0.1,"v":500},{"x":5.29,"y":0.2,"v":360},{"x":5.29,"y":0.3,"v":210},{"x":5.29,"y":0.4,"v":95},{"x":5.29,"y":0.5,"v":30},{"x":5.29,"y":0.6,"v":4},{"x":5.69,"y":0,"v":1800},{"x":5.69,"y":0.1,"v":600},{"x":5.69,"y":0.2,"v":440},{"x":5.69,"y":0.3,"v":300},{"x":5.69,"y":0.4,"v":150},{"x":5.69,"y":0.5,"v":60},{"x":5.69,"y":0.6,"v":14},{"x":5.69,"y":0.7,"v":1},{"x":6.09,"y":0,"v":1700},{"x":6.09,"y":0.1,"v":560},{"x":6.09,"y":0.2,"v":420},{"x":6.09,"y":0.3,"v":300},{"x":6.09,"y":0.4,"v":180},{"x":6.09,"y":0.5,"v":90},{"x":6.09,"y":0.6,"v":32},{"x":6.09,"y":0.7,"v":5},{"x":6.49,"y":0,"v":1200},{"x":6.49,"y":0.1,"v":400},{"x":6.49,"y":0.2,"v":310},{"x":6.49,"y":0.3,"v":240},{"x":6.49,"y":0.4,"v":160},{"x":6.49,"y":0.5,"v":90},{"x":6.49,"y":0.6,"v":42},{"x":6.49,"y":0.7,"v":14},{"x":6.49,"y":0.8,"v":2},{"x":6.89,"y":0,"v":750},{"x":6.89,"y":0.1,"v":260},{"x":6.89,"y":0.2,"v":200},{"x":6.89,"y":0.3,"v":160},{"x":6.89,"y":0.4,"v":115},{"x":6.89,"y":0.5,"v":75},{"x":6.89,"y":0.6,"v":42},{"x":6.89,"y":0.7,"v":20},{"x":6.89,"y":0.8,"v":6},{"x":6.89,"y":0.9,"v":1},{"x":7.29,"y":0,"v":380},{"x":7.29,"y":0.1,"v":130},{"x":7.29,"y":0.2,"v":100},{"x":7.29,"y":0.3,"v":80},{"x":7.29,"y":0.4,"v":60},{"x":7.29,"y":0.5,"v":42},{"x":7.29,"y":0.6,"v":28},{"x":7.29,"y":0.7,"v":16},{"x":7.29,"y":0.8,"v":8},{"x":7.29,"y":0.9,"v":3},{"x":7.69,"y":0,"v":120},{"x":7.69,"y":0.1,"v":45},{"x":7.69,"y":0.2,"v":35},{"x":7.69,"y":0.3,"v":28},{"x":7.69,"y":0.4,"v":22},{"x":7.69,"y":0.5,"v":16},{"x":7.69,"y":0.6,"v":12},{"x":7.69,"y":0.7,"v":8},{"x":7.69,"y":0.8,"v":5},{"x":7.69,"y":0.9,"v":3},{"x":8.09,"y":0,"v":3},{"x":8.09,"y":0.1,"v":2}],
"s6":[{"x":6.8,"y":1.19,"v":1},{"x":8.45,"y":1.19,"v":1},{"x":7.4,"y":1.12,"v":1},{"x":7.1,"y":1.1,"v":1},{"x":7.3,"y":1.06,"v":1},{"x":8.2,"y":1.03,"v":1},{"x":6.6,"y":1.01,"v":1},{"x":6.4,"y":0.98,"v":1},{"x":7.05,"y":1.03,"v":1},{"x":7.2,"y":0.99,"v":1},{"x":7.7,"y":0.99,"v":1},{"x":8.1,"y":0.93,"v":1},{"x":8.4,"y":0.91,"v":1},{"x":5.75,"y":0.9,"v":1},{"x":5.4,"y":0.85,"v":1},{"x":5,"y":0.83,"v":1},{"x":8.4,"y":0.74,"v":1},{"x":8.2,"y":0.77,"v":1},{"x":4.45,"y":0.74,"v":1},{"x":4.3,"y":0.69,"v":1},{"x":9.8,"y":0.59,"v":1},{"x":8.2,"y":0.57,"v":1},{"x":8.55,"y":0.52,"v":1},{"x":8.2,"y":0.46,"v":1},{"x":9.2,"y":0.47,"v":1},{"x":9.65,"y":0.32,"v":1},{"x":8.6,"y":0.3,"v":1},{"x":8.2,"y":0.27,"v":1},{"x":8.2,"y":0.18,"v":1},{"x":9.2,"y":0.18,"v":1},{"x":8.6,"y":0.14,"v":1},{"x":9.4,"y":0.1,"v":1},{"x":9.8,"y":0.15,"v":1},{"x":9.2,"y":0.06,"v":1},{"x":9.6,"y":0.04,"v":1},{"x":2.85,"y":0.39,"v":1},{"x":2.25,"y":0.29,"v":1},{"x":1.55,"y":0.2,"v":1},{"x":3.45,"y":0.5,"v":1}],
"t6":[{"x":0,"x2":7.2,"v":5000},{"x":7.2,"x2":7.7,"v":2000},{"x":7.7,"x2":8.1,"v":250},{"x":8.1,"x2":8.6,"v":12},{"x":8.6,"x2":9.91,"v":3}]
},"resolve":{"scale":{"color":"shared"}},"spacing":8,"vconcat":[{"bounds":"flush","spacing":9,"resolve":{"scale":{"color":"shared"}},"hconcat":[
{"width":269,"height":144,"title":"RM-Bench","layer":[{"data":{"name":"a1"},"mark":{"type":"rect","clip":true},"encoding":{"x":{"field":"x","type":"quantitative","bin":{"binned":true,"step":0.32},"scale":{"domain":[0.03,7.94],"nice":false},"axis":{"title":null,"zindex":1,"values":[2,4,6],"labels":false,"tickSize":-3,"gridOpacity":0.45}},"y":{"field":"y","type":"quantitative","bin":{"binned":true,"step":0.2},"title":"APS\u2091\u2032","scale":{"domain":[0,2.44],"nice":false},"axis":{"zindex":1,"values":[0,1,2],"format":".1f","tickSize":-3,"gridOpacity":0.45}},"color":{"field":"v","type":"quantitative","scale":{"type":"log","range":["#00224e","#123570","#3b496c","#575d6d","#707173","#8a8678","#a59c74","#c3b369","#e1cc55","#fee838"],"domain":[1,5500]},"legend":{"type":"gradient","title":"Frequency","offset":3,"gradientLength":308,"gradientThickness":15,"titleOrient":"right","titlePadding":11,"titleFontWeight":"normal","titleFontSize":13,"labelOffset":6,"values":[1,10,100,1000],"labelExpr":"datum.value==1?'10\u2070':datum.value==10?'10\u00b9':datum.value==100?'10\u00b2':'10\u00b3'","labelFontSize":15,"gradientStrokeColor":"#444","gradientStrokeWidth":1.5,"encoding":{"title":{"update":{"angle":{"value":90}}},"labels":{"update":{"baseline":{"value":"middle"}}}}}}}},{"data":{"name":"s1"},"mark":{"type":"rect","clip":true},"encoding":{"x":{"field":"x","type":"quantitative","title":null,"bin":{"binned":true,"step":0.16},"scale":{"domain":[0.03,7.94],"nice":false}},"y":{"field":"y","type":"quantitative","title":"APS\u2091\u2032","bin":{"binned":true,"step":0.05},"scale":{"domain":[0,2.44],"nice":false}},"color":{"field":"v","type":"quantitative","scale":{"type":"log","domain":[1,5500]}}}},{"data":{"name":"t1"},"mark":{"type":"rect","clip":true},"encoding":{"x":{"field":"x","type":"quantitative","title":null,"scale":{"domain":[0.03,7.94],"nice":false}},"x2":{"field":"x2"},"y":{"datum":0,"type":"quantitative","title":"APS\u2091\u2032","scale":{"domain":[0,2.44],"nice":false}},"y2":{"datum":0.04},"color":{"field":"v","type":"quantitative","scale":{"type":"log","domain":[1,5500]}}}}]},
{"bounds":"flush","spacing":5,"resolve":{"scale":{"color":"shared"}},"hconcat":[{"width":269,"height":144,"title":"JudgeBench","layer":[{"data":{"name":"a2"},"mark":{"type":"rect","clip":true},"encoding":{"x":{"field":"x","type":"quantitative","bin":{"binned":true,"step":0.38},"scale":{"domain":[0,9.44],"nice":false},"axis":{"title":null,"zindex":1,"values":[2,4,6,8],"labels":false,"tickSize":-3,"gridOpacity":0.45}},"y":{"field":"y","type":"quantitative","bin":{"binned":true,"step":0.2},"scale":{"domain":[0,2.44],"nice":false},"axis":{"title":null,"zindex":1,"values":[0,1,2],"labels":false,"tickSize":-3,"gridOpacity":0.45}},"color":{"field":"v","type":"quantitative","scale":{"type":"log","domain":[1,5500]}}}},{"data":{"name":"s2"},"mark":{"type":"rect","clip":true},"encoding":{"x":{"field":"x","type":"quantitative","title":null,"bin":{"binned":true,"step":0.19},"scale":{"domain":[0,9.44],"nice":false}},"y":{"field":"y","type":"quantitative","title":null,"bin":{"binned":true,"step":0.05},"scale":{"domain":[0,2.44],"nice":false}},"color":{"field":"v","type":"quantitative","scale":{"type":"log","domain":[1,5500]}}}},{"data":{"name":"t2"},"mark":{"type":"rect","clip":true},"encoding":{"x":{"field":"x","type":"quantitative","title":null,"scale":{"domain":[0,9.44],"nice":false}},"x2":{"field":"x2"},"y":{"datum":0,"type":"quantitative","title":null,"scale":{"domain":[0,2.44],"nice":false}},"y2":{"datum":0.04},"color":{"field":"v","type":"quantitative","scale":{"type":"log","domain":[1,5500]}}}}]},
{"width":270,"height":144,"title":"Reward-Bench-2","layer":[{"data":{"name":"a3"},"mark":{"type":"rect","clip":true},"encoding":{"x":{"field":"x","type":"quantitative","bin":{"binned":true,"step":0.4},"scale":{"domain":[0.02,9.91],"nice":false},"axis":{"title":null,"zindex":1,"values":[2,4,6,8],"labels":false,"tickSize":-3,"gridOpacity":0.45}},"y":{"field":"y","type":"quantitative","bin":{"binned":true,"step":0.2},"scale":{"domain":[0,2.44],"nice":false},"axis":{"title":null,"zindex":1,"values":[0,1,2],"labels":false,"tickSize":-3,"gridOpacity":0.45}},"color":{"field":"v","type":"quantitative","scale":{"type":"log","domain":[1,5500]}}}},{"data":{"name":"s3"},"mark":{"type":"rect","clip":true},"encoding":{"x":{"field":"x","type":"quantitative","title":null,"bin":{"binned":true,"step":0.2},"scale":{"domain":[0.02,9.91],"nice":false}},"y":{"field":"y","type":"quantitative","title":null,"bin":{"binned":true,"step":0.05},"scale":{"domain":[0,2.44],"nice":false}},"color":{"field":"v","type":"quantitative","scale":{"type":"log","domain":[1,5500]}}}},{"data":{"name":"t3"},"mark":{"type":"rect","clip":true},"encoding":{"x":{"field":"x","type":"quantitative","title":null,"scale":{"domain":[0.02,9.91],"nice":false}},"x2":{"field":"x2"},"y":{"datum":0,"type":"quantitative","title":null,"scale":{"domain":[0,2.44],"nice":false}},"y2":{"datum":0.04},"color":{"field":"v","type":"quantitative","scale":{"type":"log","domain":[1,5500]}}}}]}]}
]},{"bounds":"flush","spacing":9,"resolve":{"scale":{"color":"shared"}},"hconcat":[
{"width":269,"height":145,"layer":[{"data":{"name":"a4"},"mark":{"type":"rect","clip":true},"encoding":{"x":{"field":"x","type":"quantitative","bin":{"binned":true,"step":0.32},"scale":{"domain":[0.03,7.94],"nice":false},"axis":{"title":null,"zindex":1,"values":[2,4,6],"format":"d","tickSize":-3,"gridOpacity":0.45}},"y":{"field":"y","type":"quantitative","title":"EntRGi\u2091\u2032","bin":{"binned":true,"step":0.1},"scale":{"domain":[0,1.22],"nice":false},"axis":{"zindex":1,"values":[0,0.5,1],"format":".1f","tickSize":-3,"gridOpacity":0.45}},"color":{"field":"v","type":"quantitative","scale":{"type":"log","domain":[1,5500]}}}},{"data":{"name":"s4"},"mark":{"type":"rect","clip":true},"encoding":{"x":{"field":"x","type":"quantitative","title":null,"bin":{"binned":true,"step":0.16},"scale":{"domain":[0.03,7.94],"nice":false}},"y":{"field":"y","type":"quantitative","title":"EntRGi\u2091\u2032","bin":{"binned":true,"step":0.025},"scale":{"domain":[0,1.22],"nice":false}},"color":{"field":"v","type":"quantitative","scale":{"type":"log","domain":[1,5500]}}}},{"data":{"name":"t4"},"mark":{"type":"rect","clip":true},"encoding":{"x":{"field":"x","type":"quantitative","title":null,"scale":{"domain":[0.03,7.94],"nice":false}},"x2":{"field":"x2"},"y":{"datum":0,"type":"quantitative","title":"EntRGi\u2091\u2032","scale":{"domain":[0,1.22],"nice":false}},"y2":{"datum":0.02},"color":{"field":"v","type":"quantitative","scale":{"type":"log","domain":[1,5500]}}}}]},
{"bounds":"flush","spacing":5,"resolve":{"scale":{"color":"shared"}},"hconcat":[{"width":269,"height":145,"layer":[{"data":{"name":"a5"},"mark":{"type":"rect","clip":true},"encoding":{"x":{"field":"x","type":"quantitative","title":"Entropy","bin":{"binned":true,"step":0.38},"scale":{"domain":[0,9.44],"nice":false},"axis":{"zindex":1,"values":[0,2,4,6,8],"format":"d","tickSize":-3,"gridOpacity":0.45}},"y":{"field":"y","type":"quantitative","bin":{"binned":true,"step":0.1},"scale":{"domain":[0,1.22],"nice":false},"axis":{"title":null,"zindex":1,"values":[0,0.5,1],"labels":false,"tickSize":-3,"gridOpacity":0.45}},"color":{"field":"v","type":"quantitative","scale":{"type":"log","domain":[1,5500]}}}},{"data":{"name":"s5"},"mark":{"type":"rect","clip":true},"encoding":{"x":{"field":"x","type":"quantitative","title":"Entropy","bin":{"binned":true,"step":0.19},"scale":{"domain":[0,9.44],"nice":false}},"y":{"field":"y","type":"quantitative","title":null,"bin":{"binned":true,"step":0.025},"scale":{"domain":[0,1.22],"nice":false}},"color":{"field":"v","type":"quantitative","scale":{"type":"log","domain":[1,5500]}}}},{"data":{"name":"t5"},"mark":{"type":"rect","clip":true},"encoding":{"x":{"field":"x","type":"quantitative","title":"Entropy","scale":{"domain":[0,9.44],"nice":false}},"x2":{"field":"x2"},"y":{"datum":0,"type":"quantitative","title":null,"scale":{"domain":[0,1.22],"nice":false}},"y2":{"datum":0.02},"color":{"field":"v","type":"quantitative","scale":{"type":"log","domain":[1,5500]}}}}]},
{"width":270,"height":145,"layer":[{"data":{"name":"a6"},"mark":{"type":"rect","clip":true},"encoding":{"x":{"field":"x","type":"quantitative","bin":{"binned":true,"step":0.4},"scale":{"domain":[0.02,9.91],"nice":false},"axis":{"title":null,"zindex":1,"values":[2,4,6,8],"format":"d","tickSize":-3,"gridOpacity":0.45}},"y":{"field":"y","type":"quantitative","bin":{"binned":true,"step":0.1},"scale":{"domain":[0,1.22],"nice":false},"axis":{"title":null,"zindex":1,"values":[0,0.5,1],"labels":false,"tickSize":-3,"gridOpacity":0.45}},"color":{"field":"v","type":"quantitative","scale":{"type":"log","domain":[1,5500]}}}},{"data":{"name":"s6"},"mark":{"type":"rect","clip":true},"encoding":{"x":{"field":"x","type":"quantitative","title":null,"bin":{"binned":true,"step":0.2},"scale":{"domain":[0.02,9.91],"nice":false}},"y":{"field":"y","type":"quantitative","title":null,"bin":{"binned":true,"step":0.025},"scale":{"domain":[0,1.22],"nice":false}},"color":{"field":"v","type":"quantitative","scale":{"type":"log","domain":[1,5500]}}}},{"data":{"name":"t6"},"mark":{"type":"rect","clip":true},"encoding":{"x":{"field":"x","type":"quantitative","title":null,"scale":{"domain":[0.02,9.91],"nice":false}},"x2":{"field":"x2"},"y":{"datum":0,"type":"quantitative","title":null,"scale":{"domain":[0,1.22],"nice":false}},"y2":{"datum":0.02},"color":{"field":"v","type":"quantitative","scale":{"type":"log","domain":[1,5500]}}}}]}]}
]}]}
